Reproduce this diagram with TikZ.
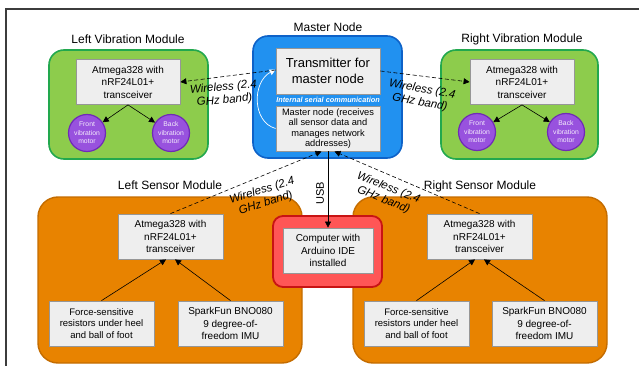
\documentclass[tikz,border=0pt]{standalone}
\usepackage{fontspec}
\setmainfont{Liberation Sans}
\usetikzlibrary{arrows.meta}
\definecolor{gfill}{RGB}{141,204,76}
\definecolor{gline}{RGB}{34,168,78}
\definecolor{bfill}{RGB}{33,145,240}
\definecolor{bline}{RGB}{14,98,200}
\definecolor{ofill}{RGB}{232,131,0}
\definecolor{oline}{RGB}{196,108,0}
\definecolor{rfill}{RGB}{255,86,86}
\definecolor{rline}{RGB}{200,20,20}
\definecolor{pfill}{RGB}{152,82,222}
\definecolor{pline}{RGB}{112,42,182}
\definecolor{boxfill}{RGB}{238,238,238}
\definecolor{boxline}{RGB}{150,150,150}
\definecolor{frame}{RGB}{60,60,60}
\begin{document}
\begin{tikzpicture}[x=1pt,y=-1pt,
  greenmod/.style={draw=gline,fill=gfill,line width=1.6pt,rounded corners=15pt,minimum width=#1},
  bluemod/.style={draw=bline,fill=bfill,line width=1.6pt,rounded corners=15pt},
  orangemod/.style={draw=oline,fill=ofill,line width=1.4pt,rounded corners=20pt},
  redmod/.style={draw=rline,fill=rfill,line width=1.8pt,rounded corners=10pt},
  graybox/.style={draw=boxline,fill=boxfill,line width=0.8pt,inner sep=0pt,align=center,font=\fontsize{10}{12.5}\selectfont},
  motor/.style={circle,draw=pline,fill=pfill,line width=1.2pt,minimum size=37pt,inner sep=0pt,align=center,text=white!90!pfill,font=\fontsize{6.8}{8.5}\selectfont},
  title/.style={font=\fontsize{12}{14}\selectfont},
  wlabel/.style={align=center,font=\fontsize{11.5}{13}\selectfont\itshape,inner sep=0pt},
  arr/.style={-{Triangle[length=6pt,width=6pt]},line width=0.6pt},
  darr/.style={arr,dashed,dash pattern=on 4pt off 2.5pt}
]
\useasboundingbox (0,0) rectangle (639,366);
\draw[frame,line width=1.3pt] (6,366) -- (6,9) -- (640,9);

% modules
\node[greenmod=159pt,minimum height=109pt] (lvm) at (128.5,104.5) {};
\node[greenmod=157pt,minimum height=109pt] (rvm) at (519.5,104.5) {};
\node[bluemod,minimum width=149pt,minimum height=122pt] (mn) at (327.5,97) {};
\node[orangemod,minimum width=264pt,minimum height=166pt] (lsm) at (170,280) {};
\node[orangemod,minimum width=254pt,minimum height=166pt] (rsm) at (480,280) {};
\node[redmod,minimum width=109pt,minimum height=71pt] (comp) at (327.5,251.5) {};

% titles
\node[title] (lvmt) at (128,39) {Left Vibration Module};
\node[title] (rvmt) at (522,39) {Right Vibration Module};
\node[title] (mnt) at (328,27) {Master Node};
\node[title] (lsmt) at (170,185) {Left Sensor Module};
\node[title] (rsmt) at (480,186) {Right Sensor Module};

% inner boxes
\node[graybox,minimum width=104pt,minimum height=45pt] (lvbox) at (128,82) {Atmega328 with\\nRF24L01+\\transceiver};
\node[graybox,minimum width=104pt,minimum height=45pt] (rvbox) at (522,82) {Atmega328 with\\nRF24L01+\\transceiver};
\node[graybox,minimum width=104pt,minimum height=46pt,font=\fontsize{13}{16}\selectfont] (tx) at (328,71) {Transmitter for\\master node};
\node[graybox,minimum width=104pt,minimum height=45pt,font=\fontsize{9.3}{10.6}\selectfont] (mbox) at (328,128.5) {Master node (receives\\all sensor data and\\manages network\\addresses)};
\node[font=\fontsize{7.3}{9}\selectfont\bfseries\itshape,text=white,inner sep=0pt] (isc) at (328,99.8) {Internal serial communication};
\node[graybox,minimum width=105pt,minimum height=45pt] (lsbox) at (170.5,236.5) {Atmega328 with\\nRF24L01+\\transceiver};
\node[graybox,minimum width=105pt,minimum height=45pt] (rsbox) at (479.5,236.5) {Atmega328 with\\nRF24L01+\\transceiver};
\node[graybox,minimum width=105pt,minimum height=45pt,font=\fontsize{9.5}{11.5}\selectfont] (lfsr) at (101.5,323.5) {Force-sensitive\\resistors under heel\\and ball of foot};
\node[graybox,minimum width=105pt,minimum height=45pt] (limu) at (230.5,323.5) {SparkFun BNO080\\9 degree-of-\\freedom IMU};
\node[graybox,minimum width=105pt,minimum height=45pt,font=\fontsize{9.5}{11.5}\selectfont] (rfsr) at (416.5,323.5) {Force-sensitive\\resistors under heel\\and ball of foot};
\node[graybox,minimum width=105pt,minimum height=45pt] (rimu) at (544.5,323.5) {SparkFun BNO080\\9 degree-of-\\freedom IMU};
\node[graybox,minimum width=90pt,minimum height=45pt] (compbox) at (328,250.5) {Computer with\\Arduino IDE\\installed};

% motors
\node[motor] (lfront) at (87,133) {Front\\vibration\\motor};
\node[motor] (lback) at (171,133) {Back\\vibration\\motor};
\node[motor] (rfront) at (477,132) {Front\\vibration\\motor};
\node[motor] (rback) at (566,132) {Back\\vibration\\motor};

% motor arrows
\draw[arr] (lvbox.south) -- (lfront);
\draw[arr] (lvbox.south) -- (lback);
\draw[arr] (rvbox.south) -- (rfront);
\draw[arr] (rvbox.south) -- (rback);

% sensor arrows
\draw[arr] (lfsr.north) -- ([xshift=-4.5pt]lsbox.south);
\draw[arr] (limu.north) -- ([xshift=4.5pt]lsbox.south);
\draw[arr] (rfsr.north) -- ([xshift=-4.5pt]rsbox.south);
\draw[arr] (rimu.north) -- ([xshift=4.5pt]rsbox.south);

% internal serial curve
\draw[white,line width=0.7pt,-{Triangle[length=6pt,width=6pt,fill=white]}] (mbox.west) .. controls (252,122) and (252,82) .. ([yshift=1.5pt]tx.west);

% wireless links
\draw[darr] ([yshift=1pt]tx.west) -- (lvbox.east);
\draw[darr] (tx.east) -- (rvbox.west);
\draw[darr] (lsbox.north) -- ([xshift=-6.5pt]mbox.south);
\draw[darr] (rsbox.north) -- ([xshift=6.5pt]mbox.south);

% USB
\draw[arr] (mbox.south) -- (compbox.north);
\node[rotate=90,font=\fontsize{11}{13}\selectfont,inner sep=0pt] (usb) at (320,193) {USB};

% wireless labels
\node[wlabel,rotate=5] (w1) at (224,94) {Wireless (2.4\\GHz band)};
\node[wlabel,rotate=-10] (w2) at (421,96) {Wireless (2.4\\GHz band)};
\node[wlabel,rotate=17] (w3) at (264,197) {Wireless (2.4\\GHz band)};
\node[wlabel,rotate=-22] (w4) at (386,194) {Wireless (2.4\\GHz band)};
\end{tikzpicture}
\end{document}
